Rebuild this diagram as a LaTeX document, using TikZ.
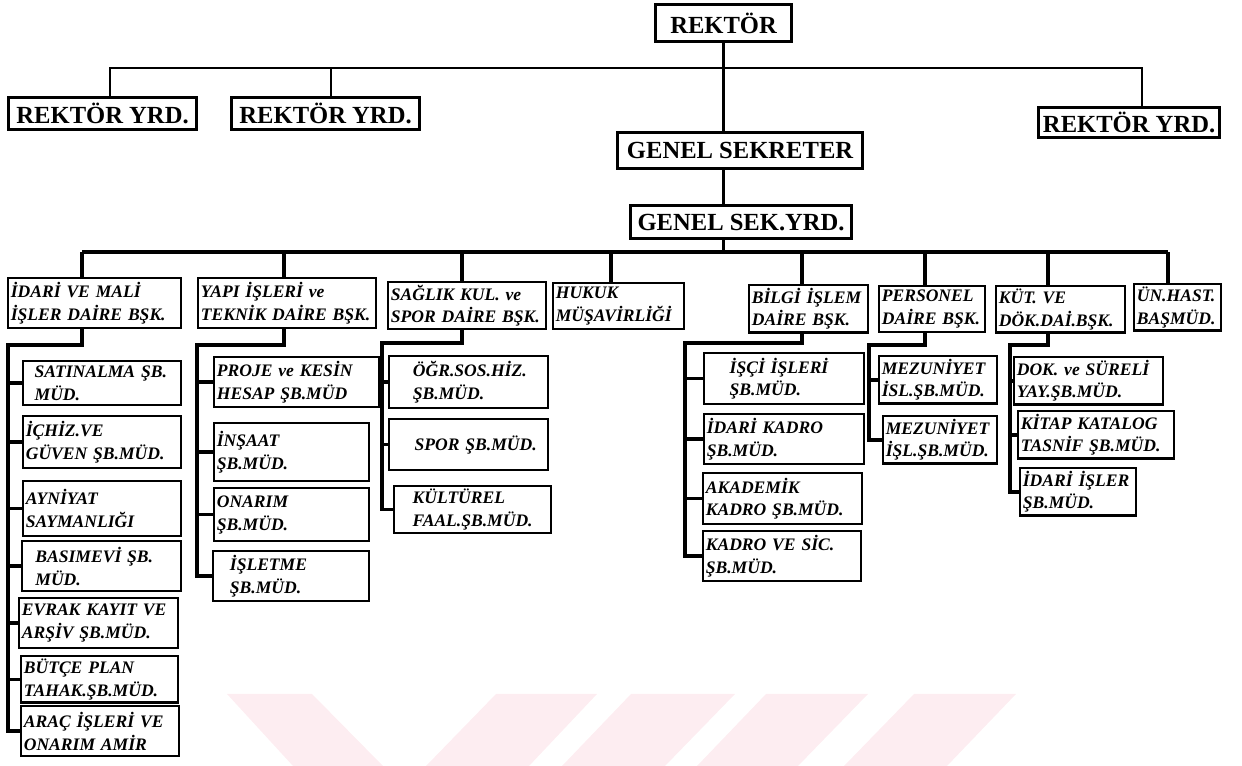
\documentclass[tikz,border=0pt]{standalone}
\usepackage{fontspec}
\setmainfont{Liberation Serif}
\definecolor{wmark}{RGB}{253,237,241}
\tikzset{
  head/.style={draw, line width=1.8pt, inner sep=2pt, anchor=north west,
               font=\fontsize{14}{16}\selectfont\bfseries},
  unit/.style={draw, line width=1.4pt, inner sep=1.5pt, align=left, anchor=north west,
               font=\fontsize{10}{13}\selectfont\bfseries\itshape},
  link/.style={line width=2pt},
  thinlink/.style={line width=1.1pt},
}

\begin{document}
\begin{tikzpicture}[x=0.02cm, y=-0.02cm]
  \useasboundingbox (0,0) rectangle (1242,766);

  %% pale stripes at the bottom
  \fill[wmark] (227,694) -- (312,694) -- (383,766) -- (293,766) -- cycle;
  \fill[wmark] (496,694) -- (597,694) -- (529,766) -- (426,766) -- cycle;
  \fill[wmark] (631,694) -- (735,694) -- (665,766) -- (562,766) -- cycle;
  \fill[wmark] (766,694) -- (868,694) -- (798,766) -- (697,766) -- cycle;
  \fill[wmark] (914,694) -- (1016,694) -- (947,766) -- (844,766) -- cycle;

  %% top of the chart
  \foreach \n/\xa/\ya/\xb/\yb/\t in {
      rek/654/3/790/40/{REKTÖR},
      ryd1/7/96/195/128/{REKTÖR YRD.},
      ryd2/230/96/418/128/{REKTÖR YRD.},
      ryd3/1037/106/1218/136/{REKTÖR YRD.},
      gs/616/131/861/167/{GENEL SEKRETER},
      gsy/629/204/850/237/{GENEL SEK.YRD.}} {
    \pgfmathsetmacro\w{(\xb-\xa)*0.02}
    \pgfmathsetmacro\h{(\yb-\ya)*0.02}
    \node[head, minimum width=\w cm, minimum height=\h cm] (\n) at (\xa,\ya) {\t};
  }

  %% departments and their units
  \foreach \n/\xa/\ya/\xb/\yb/\t in {
      idari/7/277/180/327/{İDARİ VE MALİ\\İŞLER DAİRE BŞK.},
      yapi/197/277/375/327/{YAPI İŞLERİ ve\\TEKNİK DAİRE BŞK.},
      saglik/387/281/545/325/{SAĞLIK KUL. ve\\SPOR DAİRE BŞK.},
      hukuk/552/282/683/328/{HUKUK\\MÜŞAVİRLİĞİ},
      bilgi/748/284/867/330/{BİLGİ İŞLEM\\DAİRE BŞK.},
      pers/878/285/984/331/{PERSONEL\\DAİRE BŞK.},
      kut/995/285/1124/328/{KÜT. VE\\DÖK.DAİ.BŞK.},
      unh/1133/283/1220/325/{ÜN.HAST.\\BAŞMÜD.},
      i1/22/360/180/404/{\hspace*{5pt}SATINALMA ŞB.\\\hspace*{5pt}MÜD.},
      i2/22/415/180/467/{İÇHİZ.VE\\GÜVEN ŞB.MÜD.},
      i3/22/480/180/535/{AYNİYAT\\SAYMANLIĞI},
      i4/21/540/180/590/{\hspace*{6pt}BASIMEVİ ŞB.\\\hspace*{6pt}MÜD.},
      i5/18/597/177/647/{EVRAK KAYIT VE\\ARŞİV ŞB.MÜD.},
      i6/20/655/177/700/{BÜTÇE PLAN\\TAHAK.ŞB.MÜD.},
      i7/20/705/178/755/{ARAÇ İŞLERİ VE\\ONARIM AMİR},
      y1/213/356/378/406/{PROJE ve KESİN\\HESAP ŞB.MÜD},
      y2/213/422/368/480/{İNŞAAT\\ŞB.MÜD.},
      y3/213/487/368/540/{ONARIM\\ŞB.MÜD.},
      y4/212/550/368/600/{\hspace*{8pt}İŞLETME\\\hspace*{8pt}ŞB.MÜD.},
      s1/388/355/547/407/{\hspace*{12pt}ÖĞR.SOS.HİZ.\\\hspace*{12pt}ŞB.MÜD.},
      s2/388/418/547/469/{\hspace*{13pt}SPOR ŞB.MÜD.},
      s3/393/485/550/532/{\hspace*{9pt}KÜLTÜREL\\\hspace*{9pt}FAAL.ŞB.MÜD.},
      b1/703/352/863/403/{\hspace*{13pt}İŞÇİ İŞLERİ\\\hspace*{13pt}ŞB.MÜD.},
      b2/703/413/863/463/{İDARİ KADRO\\ŞB.MÜD.},
      b3/702/472/861/523/{AKADEMİK\\KADRO ŞB.MÜD.},
      b4/702/530/860/580/{KADRO VE SİC.\\ŞB.MÜD.},
      p1/878/355/996/395/{MEZUNİYET\\İSL.ŞB.MÜD.},
      p2/882/415/996/457/{MEZUNİYET\\İŞL.ŞB.MÜD.},
      k1/1013/356/1162/395/{DOK. ve SÜRELİ\\YAY.ŞB.MÜD.},
      k2/1017/410/1173/455/{KİTAP KATALOG\\TASNİF ŞB.MÜD.},
      k3/1019/467/1135/512/{İDARİ İŞLER\\ŞB.MÜD.}} {
    \pgfmathsetmacro\w{(\xb-\xa)*0.02}
    \pgfmathsetmacro\h{(\yb-\ya)*0.02}
    \node[unit, text width=\w cm-3pt, minimum height=\h cm] (\n) at (\xa,\ya) {\t};
  }

  %% rector and assistants
  \coordinate (t1) at (110,68);
  \coordinate (t2) at (331,68);
  \coordinate (t3) at (1142,68);
  \draw[thinlink] (t1 |- ryd1.north) -- (t1) -- (t3) -- (t3 |- ryd3.north);
  \draw[thinlink] (t2) -- (t2 |- ryd2.north);
  \draw[link] (rek.south) -- (rek.south |- gs.north);
  \draw[link] (rek.south |- gs.south) -- (rek.south |- gsy.north);

  %% bus to the departments
  \coordinate (bus) at (722,252);
  \draw[link] (rek.south |- gsy.south) -- (rek.south |- bus);
  \foreach \d/\x/\n in {d1/82/idari, d2/284/yapi, d3/462/saglik, d4/611/hukuk,
                        d5/802/bilgi, d6/925/pers, d7/1048/kut, d8/1168/unh} {
    \coordinate (\d) at (\x,252);
    \draw[link] (\d) -- (\d |- \n.north);
  }
  \draw[link] (d1) -- (d8);

  %% units under each department
  \foreach \e/\xe/\ye/\d/\n/\last/\rest in {
      e1/8/345/d1/idari/i7/{i1,i2,i3,i4,i5,i6},
      e2/197/345/d2/yapi/y4/{y1,y2,y3},
      e3/382/343/d3/saglik/s3/{s1,s2},
      e5/685/343/d5/bilgi/b4/{b1,b2,b3},
      e6/869/345/d6/pers/p2/{p1},
      e7/1010/345/d7/kut/k3/{k1,k2}} {
    \coordinate (\e) at (\xe,\ye);
    \draw[link] (\d |- \n.south) -- (\d |- \e) -- (\e) -- (\e |- \last.west) -- (\last.west);
    \foreach \k in \rest
      \draw[link] (\k.west) -- (\k.west -| \e);
  }
\end{tikzpicture}
\end{document}
